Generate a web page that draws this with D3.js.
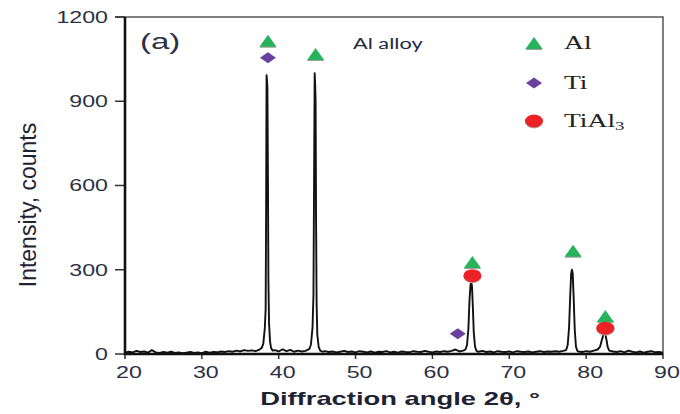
<!DOCTYPE html>
<html>
<head>
<meta charset="utf-8">
<script src="https://cdn.jsdelivr.net/npm/d3@7"></script>
<style>
  body { margin: 0; background: #fff; }
  svg { display: block; }
</style>
</head>
<body>
<div id="chart"></div>
<script>
// diffraction pattern, [2theta, counts]
var background = [
  [20, 5], [20.5, 8], [21, 6], [21.5, 11], [22, 7], [22.5, 9], [23, 5], [23.5, 14], [24, 6], [24.5, 4],
  [25, 7], [25.5, 5], [26, 8], [26.5, 4], [27, 6], [27.5, 3], [28, 5], [28.5, 7], [29, 4], [29.5, 6],
  [30, 3], [30.5, 8], [31, 5], [31.5, 7], [32, 6], [32.5, 9], [33, 7], [33.5, 10], [34, 8], [34.5, 12],
  [35, 9], [35.5, 14], [36, 11], [36.5, 13], [37, 10], [37.5, 16],
  [39.5, 14], [40, 9], [40.5, 17], [41, 10], [41.5, 15], [42, 8], [42.5, 12], [43, 9], [43.5, 11], [44, 18],
  [45.7, 8], [46, 10], [46.5, 7], [47, 9], [47.5, 6], [48, 8], [48.5, 11], [49, 7], [49.5, 9],
  [50, 6], [50.5, 10], [51, 8], [51.5, 6], [52, 9], [52.5, 5], [53, 8], [53.5, 7], [54, 10], [54.5, 6],
  [55, 8], [55.5, 5], [56, 9], [56.5, 7], [57, 6], [57.5, 10], [58, 8], [58.5, 7], [59, 11], [59.5, 8],
  [60, 6], [60.5, 9], [61, 7], [61.5, 10], [62, 8], [62.5, 11], [63, 16], [63.3, 12], [63.5, 9], [64, 12],
  [66, 8], [66.5, 11], [67, 7], [67.5, 9], [68, 6], [68.5, 10], [69, 8], [69.5, 7],
  [70, 9], [70.5, 6], [71, 10], [71.5, 8], [72, 7], [72.5, 9], [73, 6], [73.5, 8], [74, 10], [74.5, 7],
  [75, 9], [75.5, 8], [76, 10], [76.5, 8], [77, 11],
  [79, 9], [79.5, 7], [80, 10], [80.5, 8], [81, 12], [81.5, 16],
  [83.5, 9], [84, 7], [84.5, 10], [85, 6], [85.5, 12], [86, 8], [86.5, 6], [87, 9], [87.5, 5],
  [88, 8], [88.5, 10], [89, 6], [89.5, 7], [90, 5]
];

var peaks = [
  [37.8, 22], [38.0, 38], [38.2, 95], [38.3, 160], [38.36, 500], [38.42, 993], [38.47, 975], [38.53, 950],
  [38.6, 620], [38.66, 260], [38.74, 110], [38.87, 45], [39.0, 22], [39.2, 12],
  [44.2, 35], [44.4, 95], [44.52, 210], [44.6, 600], [44.68, 1000], [44.74, 960], [44.8, 900], [44.86, 480],
  [44.93, 180], [45.02, 70], [45.2, 25], [45.4, 12],
  [64.3, 16], [64.5, 32], [64.68, 90], [64.82, 190], [64.95, 245], [65.05, 258], [65.15, 240],
  [65.27, 160], [65.38, 75], [65.55, 25], [65.75, 10],
  [77.4, 14], [77.6, 32], [77.78, 95], [77.93, 210], [78.05, 285], [78.15, 300], [78.25, 288],
  [78.37, 205], [78.52, 85], [78.68, 25], [78.88, 10],
  [81.8, 25], [82.0, 45], [82.2, 65], [82.35, 72], [82.5, 70], [82.65, 50], [82.8, 25], [83.0, 12]
];

// phase markers
var alMarks = [[38.6, 1115], [44.8, 1068], [65.2, 328], [78.3, 368], [82.5, 135]];
var tiMarks = [[38.6, 1055], [63.3, 72]];
var tial3Marks = [[65.2, 279], [82.5, 92]];

var xTicks = [20, 30, 40, 50, 60, 70, 80, 90];
var yTicks = [0, 300, 600, 900, 1200];

var width = 680, height = 414;
var margin = { top: 17, right: 17, bottom: 60, left: 125 };
var textColor = "#2b3044";

var svg = d3.select("#chart").append("svg")
  .attr("width", width)
  .attr("height", height);

var x = d3.scaleLinear().domain([20, 90]).range([margin.left, width - margin.right]);
var y = d3.scaleLinear().domain([0, 1200]).range([height - margin.bottom, margin.top]);

var x0 = x(20), x1 = x(90), y0 = y(0), y1 = y(1200);

// frame: top and right in grey
svg.append("path")
  .attr("d", "M" + (x0 - 10) + "," + y1 + "H" + x1 + "V" + y0)
  .attr("fill", "none")
  .attr("stroke", "#555")
  .attr("stroke-width", 1.5);

// y ticks
svg.append("g").selectAll("line").data(yTicks).join("line")
  .attr("x1", x0 - 10).attr("x2", x0)
  .attr("y1", function(d) { return y(d); }).attr("y2", function(d) { return y(d); })
  .attr("stroke", "#333").attr("stroke-width", 1.5);

svg.append("g").selectAll("text").data(yTicks).join("text")
  .attr("transform", function(d) { return "translate(" + (x0 - 17) + "," + y(d) + ") scale(1.45,1)"; })
  .attr("dy", "0.36em")
  .attr("text-anchor", "end")
  .attr("font-family", "Liberation Sans, Arial, sans-serif")
  .attr("font-size", 16)
  .attr("fill", textColor)
  .text(function(d) { return d; });

// x ticks
svg.append("g").selectAll("line").data(xTicks).join("line")
  .attr("x1", function(d) { return x(d); }).attr("x2", function(d) { return x(d); })
  .attr("y1", y0).attr("y2", y0 + 5)
  .attr("stroke", "#333").attr("stroke-width", 1.5);

svg.append("g").selectAll("text").data(xTicks).join("text")
  .attr("transform", function(d) { return "translate(" + (x(d) + 4) + "," + (y0 + 24) + ") scale(1.45,1)"; })
  .attr("text-anchor", "middle")
  .attr("font-family", "Liberation Sans, Arial, sans-serif")
  .attr("font-size", 16)
  .attr("fill", textColor)
  .text(function(d) { return d; });

// the pattern
var pattern = background.concat(peaks).sort(function(a, b) { return a[0] - b[0]; });

var line = d3.line()
  .x(function(d) { return x(d[0]); })
  .y(function(d) { return y(d[1]); });

svg.append("path")
  .datum(pattern)
  .attr("d", line)
  .attr("fill", "none")
  .attr("stroke", "#111")
  .attr("stroke-width", 1.9)
  .attr("stroke-linejoin", "round");

// axes lines (thick black, left and bottom)
svg.append("path")
  .attr("d", "M" + x0 + "," + y1 + "V" + y0 + "H" + x1)
  .attr("fill", "none")
  .attr("stroke", "#111")
  .attr("stroke-width", 2.6);

// marker shapes
function triangle(g, cx, cy) {
  g.append("path")
    .attr("d", "M" + (cx - 8.5) + "," + (cy + 7) + "L" + cx + "," + (cy - 5) + "L" + (cx + 8.5) + "," + (cy + 7) + "Z")
    .attr("fill", "#a0a0a0");
  g.append("path")
    .attr("d", "M" + (cx - 8.5) + "," + (cy + 6) + "L" + cx + "," + (cy - 6) + "L" + (cx + 8.5) + "," + (cy + 6) + "Z")
    .attr("fill", "#27b35c");
}
function diamond(g, cx, cy) {
  g.append("path")
    .attr("d", "M" + (cx - 8) + "," + cy + "L" + cx + "," + (cy - 5.5) + "L" + (cx + 8) + "," + cy + "L" + cx + "," + (cy + 5.5) + "Z")
    .attr("fill", "#6b3fa0");
}
function ellipse(g, cx, cy) {
  g.append("ellipse")
    .attr("cx", cx).attr("cy", cy + 1)
    .attr("rx", 9).attr("ry", 6.5)
    .attr("fill", "#b0b0b0");
  g.append("ellipse")
    .attr("cx", cx).attr("cy", cy)
    .attr("rx", 9).attr("ry", 6.5)
    .attr("fill", "#ec2227");
}

var marks = svg.append("g");
alMarks.forEach(function(d) { triangle(marks, x(d[0]), y(d[1])); });
tiMarks.forEach(function(d) { diamond(marks, x(d[0]), y(d[1])); });
tial3Marks.forEach(function(d) { ellipse(marks, x(d[0]), y(d[1])); });

// legend
var legend = svg.append("g");
var legendItems = [
  { label: "Al", draw: triangle, cy: 43 },
  { label: "Ti", draw: diamond, cy: 83 },
  { label: "TiAl", sub: "3", draw: ellipse, cy: 121 }
];
legendItems.forEach(function(d) {
  d.draw(legend, 534, d.cy);
  var t = legend.append("text")
    .attr("transform", "translate(564," + (d.cy + 6) + ") scale(1.45,1)")
    .attr("font-family", "Liberation Serif, Times New Roman, serif")
    .attr("font-size", 19)
    .attr("fill", "#222")
    .text(d.label);
  if (d.sub) {
    t.append("tspan").attr("font-size", 13).attr("dy", 3).text(d.sub);
  }
});

// annotations
svg.append("text")
  .attr("transform", "translate(140,49) scale(1.5,1)")
  .attr("font-family", "Liberation Sans, Arial, sans-serif")
  .attr("font-size", 22)
  .attr("fill", textColor)
  .text("(a)");

svg.append("text")
  .attr("transform", "translate(353,49) scale(1.45,1)")
  .attr("font-family", "Lato, Open Sans, sans-serif")
  .attr("font-size", 15)
  .attr("fill", "#222a45")
  .text("Al alloy");

// axis titles
svg.append("text")
  .attr("transform", "translate(400,405) scale(1.48,1)")
  .attr("text-anchor", "middle")
  .attr("font-family", "Liberation Sans, Arial, sans-serif")
  .attr("font-weight", "bold")
  .attr("font-size", 18.5)
  .attr("fill", "#1e2233")
  .text("Diffraction angle 2θ, °");

svg.append("text")
  .attr("transform", "translate(36,205) rotate(-90)")
  .attr("text-anchor", "middle")
  .attr("font-family", "Liberation Sans, Arial, sans-serif")
  .attr("font-size", 23)
  .attr("fill", "#1e2233")
  .text("Intensity, counts");
</script>
</body>
</html>
